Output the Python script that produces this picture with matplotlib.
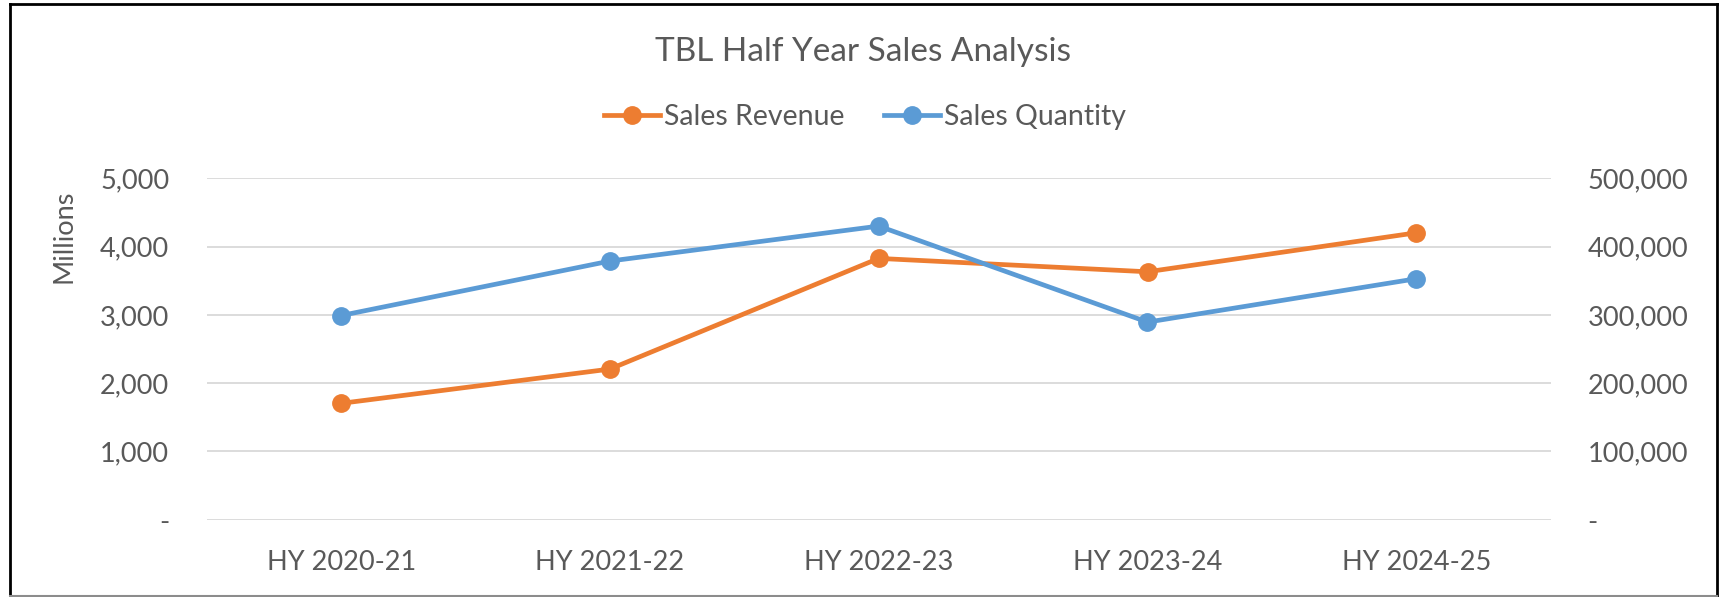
import matplotlib
matplotlib.use("Agg")
import matplotlib.pyplot as plt
from matplotlib.lines import Line2D
from matplotlib.ticker import FuncFormatter

# datos
periods = ["HY 2020-21", "HY 2021-22", "HY 2022-23", "HY 2023-24", "HY 2024-25"]
sales_revenue = [1704, 2206, 3827, 3631, 4202]          # millones
sales_quantity = [299000, 378800, 430000, 289400, 352900]
left_ticks = [0, 1000, 2000, 3000, 4000, 5000]
right_ticks = [0, 100000, 200000, 300000, 400000, 500000]

orange = "#ED7D31"
blue = "#5B9BD5"
text_color = "#595959"
grid_color = "#D9D9D9"

plt.rcParams["font.family"] = ["Lato", "DejaVu Sans"]

W, H = 1729, 597
fig = plt.figure(figsize=(W / 100, H / 100), dpi=100)

# area del grafico en pixeles
left, right, top, bottom = 206.7, 1550.7, 178.3, 519.7
ax = fig.add_axes([left / W, 1 - bottom / H, (right - left) / W, (bottom - top) / H])
ax2 = ax.twinx()

x = list(range(len(periods)))

def thousands(v, pos):
    if v == 0:
        return "-"
    return "{:,.0f}".format(v)

ax.set_xlim(-0.5, len(periods) - 0.5)
ax.set_ylim(0, 5000)
ax2.set_ylim(0, 500000)
ax.set_yticks(left_ticks)
ax2.set_yticks(right_ticks)
ax.yaxis.set_major_formatter(FuncFormatter(thousands))
ax2.yaxis.set_major_formatter(FuncFormatter(thousands))
ax.set_xticks(x)
ax.set_xticklabels(periods)

ax.grid(axis="y", color=grid_color, linewidth=1.3)
ax.set_axisbelow(True)

for a in (ax, ax2):
    for s in a.spines.values():
        s.set_visible(False)

ax.tick_params(axis="y", length=0, pad=27, labelsize=19.5, labelcolor=text_color)
ax.tick_params(axis="x", length=0, pad=22, labelsize=19.5, labelcolor=text_color)
ax2.tick_params(axis="y", length=0, pad=26.6, labelsize=19.5, labelcolor=text_color)

ax.plot(x, sales_revenue, color=orange, linewidth=3.4, marker="o", markersize=12.5,
        solid_capstyle="round", label="Sales Revenue")
ax2.plot(x, sales_quantity, color=blue, linewidth=3.4, marker="o", markersize=12.5,
         solid_capstyle="round", label="Sales Quantity")

fig.text(63.7 / W, 1 - 236.7 / H, "Millions", rotation=90, ha="center", va="center",
         fontsize=19.5, color=text_color)

fig.text(863 / W, 1 - 60.7 / H, "TBL Half Year Sales Analysis", ha="center", va="baseline",
         fontsize=24, color=text_color)

handles = [
    Line2D([], [], color=orange, linewidth=3.4, marker="o", markersize=12.5),
    Line2D([], [], color=blue, linewidth=3.4, marker="o", markersize=12.5),
]
fig.legend(handles, ["Sales Revenue", "Sales Quantity"], loc="center",
           bbox_to_anchor=(865 / W, 1 - 117 / H), ncol=2, frameon=False,
           fontsize=20.5, labelcolor=text_color, handlelength=1.95,
           handletextpad=0.15, columnspacing=1.4)

# marco del grafico
fig.add_artist(Line2D([10 / W, 10 / W], [1 - 4 / H, 1 - 596 / H], color="black", linewidth=2))
fig.add_artist(Line2D([10 / W, 1716.7 / W], [1 - 4 / H, 1 - 4 / H], color="black", linewidth=2))
fig.add_artist(Line2D([1716.7 / W, 1716.7 / W], [1 - 4 / H, 1 - 596 / H], color="black", linewidth=2))
fig.add_artist(Line2D([10 / W, 1716.7 / W], [1 - 596 / H, 1 - 596 / H], color="#8C8C8C", linewidth=1.5))

fig.savefig("out.png", dpi=100)
